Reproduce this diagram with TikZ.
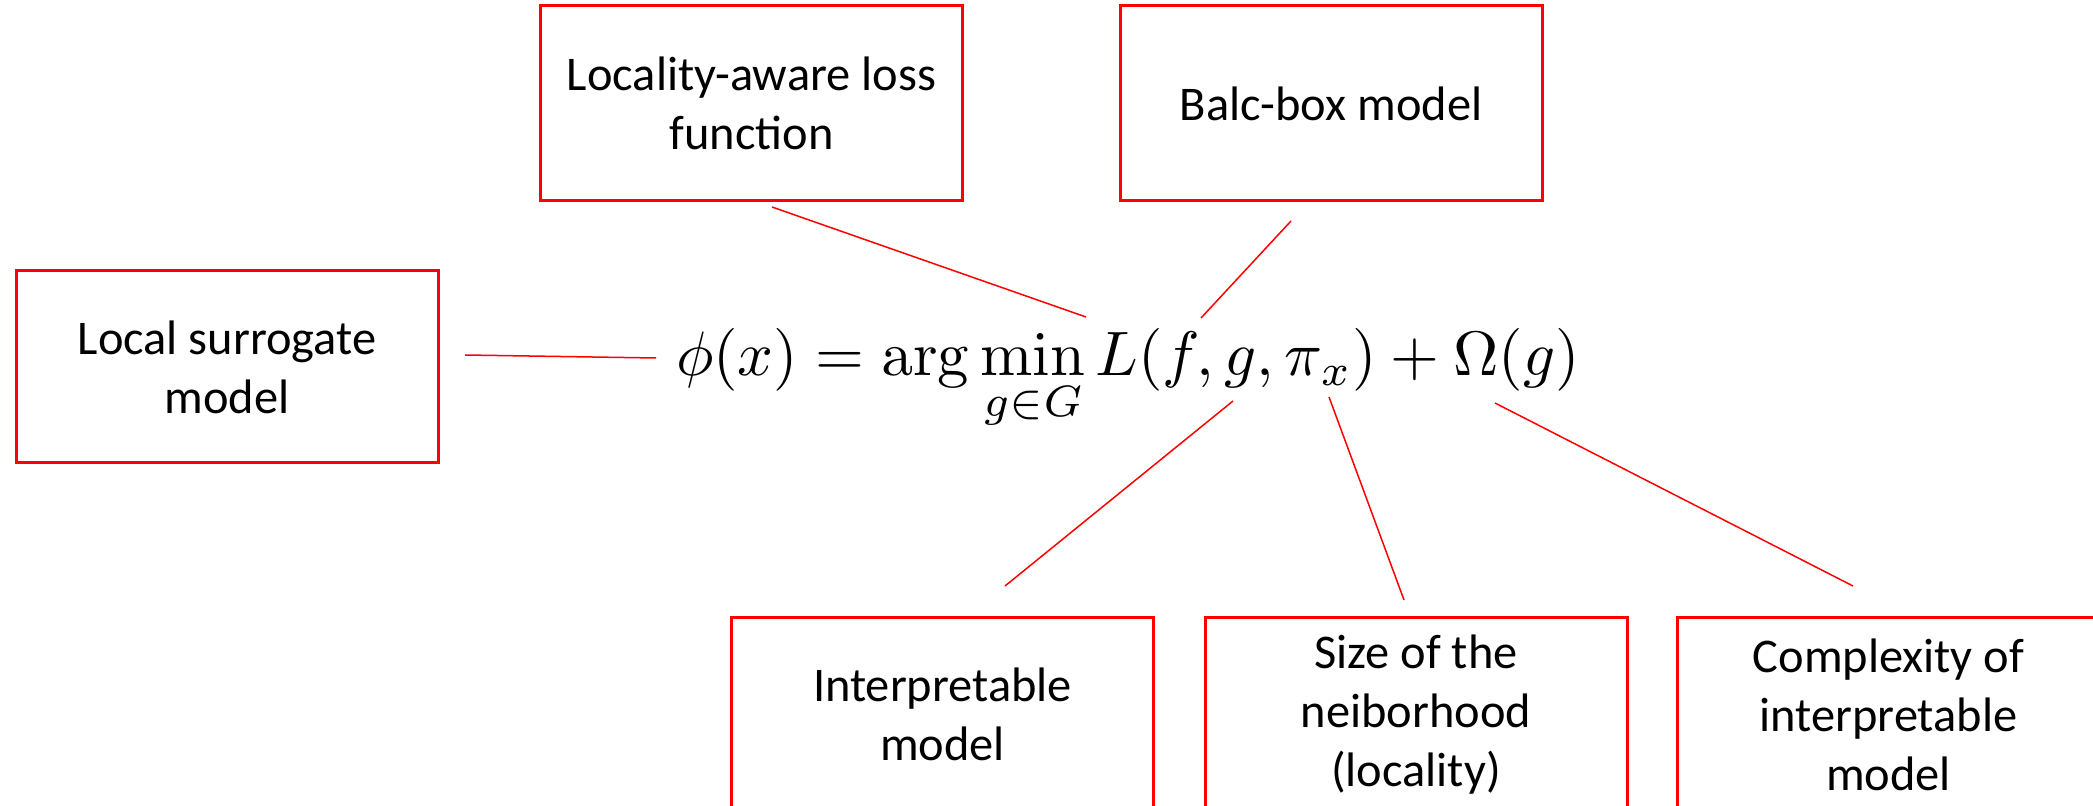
\documentclass[tikz,border=0pt]{standalone}
\usepackage{amsmath}
\usepackage[no-math]{fontspec}
\setmainfont{Carlito}
\definecolor{boxred}{RGB}{255,0,0}
\begin{document}
\begin{tikzpicture}[x=0.5pt,y=-0.5pt,
  redbox/.style={draw=boxred,line width=1.5pt,rectangle,inner sep=0pt,
    minimum width=211pt,minimum height=97.5pt,align=center,
    font=\fontsize{24.2}{29.5}\selectfont},
  link/.style={draw=boxred,line width=0.75pt}]
\useasboundingbox (0,0) rectangle (2093,806);
\clip (0,0) rectangle (2093,806);
\node[redbox] (loss) at (751.5,103.5) {Locality-aware loss\\function};
\node[redbox] (black) at (1331,103.5) {Balc-box model};
\node[redbox,minimum height=96pt] (surr) at (227,367) {Local surrogate\\model};
\node[redbox] (interp) at (942.5,714.5) {Interpretable\\model};
\node[redbox] (size) at (1416,714.5) {Size of the\\neiborhood\\(locality)};
\node[redbox] (compl) at (1888.5,714.5) {Complexity of\\interpretable\\model};
\node[anchor=base,inner sep=0pt] (eq) at (1128,376)
  {\scalebox{3.14}{$\displaystyle \phi(x) = \arg\min_{g\in G} L(f,g,\pi_x) + \Omega(g)$}};
\coordinate (a1) at (465,355); \coordinate (a2) at (656,358);
\coordinate (b1) at (772,207); \coordinate (b2) at (1086,317);
\coordinate (c1) at (1291,221); \coordinate (c2) at (1201,318);
\coordinate (d1) at (1233,401); \coordinate (d2) at (1005,586);
\coordinate (e1) at (1329,397); \coordinate (e2) at (1404,600);
\coordinate (f1) at (1495,403); \coordinate (f2) at (1853,586);
\draw[link] (a1) -- (a2);
\draw[link] (b1) -- (b2);
\draw[link] (c1) -- (c2);
\draw[link] (d1) -- (d2);
\draw[link] (e1) -- (e2);
\draw[link] (f1) -- (f2);
\end{tikzpicture}
\end{document}
